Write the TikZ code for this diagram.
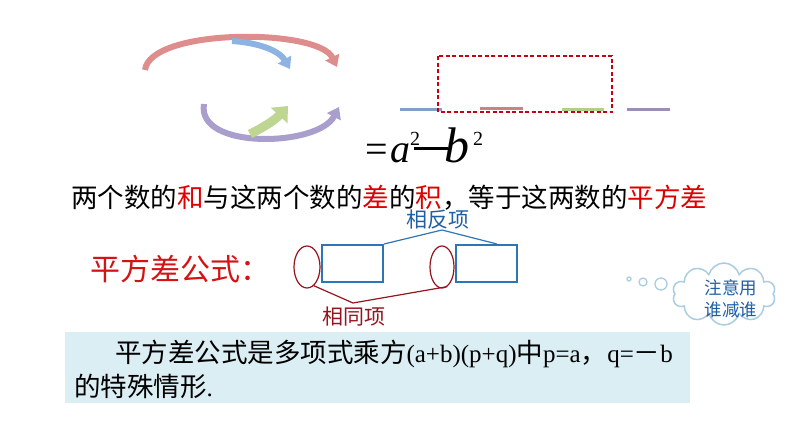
\documentclass[tikz,border=0pt]{standalone}
\usepackage{fontspec}
\setmainfont{Liberation Serif}
\newfontfamily\cjk{Noto Sans CJK SC}
\usetikzlibrary{arrows.meta,shapes.symbols,shapes.geometric}
\definecolor{titlered}{RGB}{222,0,0}
\definecolor{labelred}{RGB}{210,20,20}
\definecolor{darkred}{RGB}{150,20,30}
\definecolor{boxblue}{RGB}{46,117,182}
\definecolor{txtblue}{RGB}{31,95,165}
\definecolor{cloudline}{RGB}{170,205,225}
\definecolor{boxfill}{RGB}{219,238,244}
\definecolor{arrred}{RGB}{222,140,140}
\definecolor{arrblue}{RGB}{141,179,226}
\definecolor{arrpurple}{RGB}{170,158,205}
\definecolor{arrgreen}{RGB}{190,214,145}
\definecolor{segblue}{RGB}{130,160,200}
\definecolor{segred}{RGB}{205,130,130}
\definecolor{seggreen}{RGB}{180,205,135}
\definecolor{segpurple}{RGB}{155,143,182}
\definecolor{dashred}{RGB}{200,0,20}
\newcommand\Cjk[1]{{\cjk\fontsize{26.5}{30}\selectfont #1}}
\newcommand\Red[1]{\textcolor{titlered}{#1}}
\tikzset{
  plain/.style={inner sep=0pt, outer sep=0pt},
  bigarr/.style={line width=6pt, -{Triangle[width=15pt,length=11pt]}},
  seg/.style={line width=3pt},
  termbox/.style={draw=boxblue, line width=2pt, minimum width=61pt, minimum height=37pt, inner sep=0pt},
  termell/.style={ellipse, draw=darkred, line width=1.2pt, minimum height=42pt, inner sep=0pt},
  blueline/.style={draw=boxblue, line width=1.2pt},
  redline/.style={draw=darkred, line width=1.2pt},
  bubble/.style={circle, draw=cloudline, line width=1.3pt, fill=white, inner sep=0pt},
}
\begin{document}
\begin{tikzpicture}[x=1pt,y=-1pt]
\useasboundingbox (0,0) rectangle (794,447);
% curved arrows
\draw[bigarr, draw=arrred] (145,70) .. controls (150,28) and (318,28) .. (337,67);
\draw[bigarr, draw=arrblue] (232,41) .. controls (262,43) and (280,52) .. (290,69);
\draw[bigarr, draw=arrpurple] (204,104) .. controls (196,150) and (318,147) .. (339,107);
\draw[line width=9pt, draw=arrgreen, -{Triangle[width=22pt,length=13pt]}] (250,134) .. controls (262,128) and (274,121) .. (288,106);
% segments and dashed frame
\draw[seg, segblue] (400,109) -- (442,109);
\draw[seg, segred] (480,108) -- (523,108);
\draw[seg, seggreen] (562,109) -- (604,109);
\draw[seg, segpurple] (627,109) -- (670,109);
\draw[dashred, line width=1.2pt, dash pattern=on 4pt off 2.5pt] (438,56) rectangle (612,112);
% formula
\node[plain, anchor=base west, font=\fontsize{40}{40}\selectfont] (eq) at (365,162) {=};
\node[plain, anchor=base west, font=\fontsize{40}{40}\selectfont\itshape] (fa) at (390,162) {a};
\node[plain, anchor=base west, font=\fontsize{20}{20}\selectfont] (fa2) at (410,145) {2};
\draw[line width=3pt] (414,148) -- (448,148);
\node[plain, anchor=base west, font=\fontsize{50}{50}\selectfont\itshape] (fb) at (444,162) {b};
\node[plain, anchor=base west, font=\fontsize{20}{20}\selectfont] (fb2) at (473,145) {2};
% title line
\node[plain, anchor=base west] (title) at (71,207) {\Cjk{两个数的\Red{和}与这两个数的\Red{差}的\Red{积}，等于这两数的\Red{平方差}}};
% formula label
\node[plain, anchor=base west, text=labelred, font=\cjk\fontsize{30}{30}\selectfont] (pfc) at (90,280) {平方差公式：};
% terms
\node[termell, minimum width=26pt] (e1) at (307,267) {};
\node[termbox] (r1) at (352.5,263.5) {};
\node[termell, minimum width=24pt] (e2) at (442,267) {};
\node[termbox] (r2) at (486.5,263.5) {};
\node[plain, anchor=base west, text=txtblue, font=\cjk\fontsize{21}{21}\selectfont] (fx) at (406,227) {相反项};
\node[plain, anchor=base west, text=darkred, font=\cjk\fontsize{21}{21}\selectfont] (tx) at (322,324) {相同项};
\coordinate (fan) at (442,230);
\coordinate (tong) at (353,303);
\draw[blueline] (r1.north east) -- (fan) -- ([xshift=10.5pt]r2.north);
\draw[redline] (e1.-70) -- (tong) -- (e2.-75);
% cloud
\node[bubble, minimum size=4pt] (c1) at (629,279) {};
\node[bubble, minimum size=8pt] (c2) at (643,282) {};
\node[bubble, minimum size=12pt] (c3) at (661,284) {};
\node[cloud, cloud puffs=10, aspect=1.7, draw=cloudline, line width=1.5pt, fill=white, minimum width=103pt, minimum height=62pt, inner sep=0pt] (cloud) at (724,294) {};
\node[plain, align=center, text=txtblue, font=\cjk\fontsize{17.5}{22}\selectfont] (ctext) at (731,299) {注意用\\谁减谁};
% bottom box
\node[plain, fill=boxfill, minimum width=625pt, minimum height=71pt, anchor=north west] (box) at (65,332) {};
\node[plain, anchor=base west, font=\fontsize{25}{25}\selectfont] (l1) at (115,362) {\Cjk{平方差公式是多项式乘方}(a+b)(p+q)\Cjk{中}p=a\Cjk{，}q=\Cjk{－}b};
\node[plain, anchor=base west, font=\fontsize{25}{25}\selectfont] (l2) at (74,396) {\Cjk{的特殊情形}.};
\end{tikzpicture}
\end{document}
